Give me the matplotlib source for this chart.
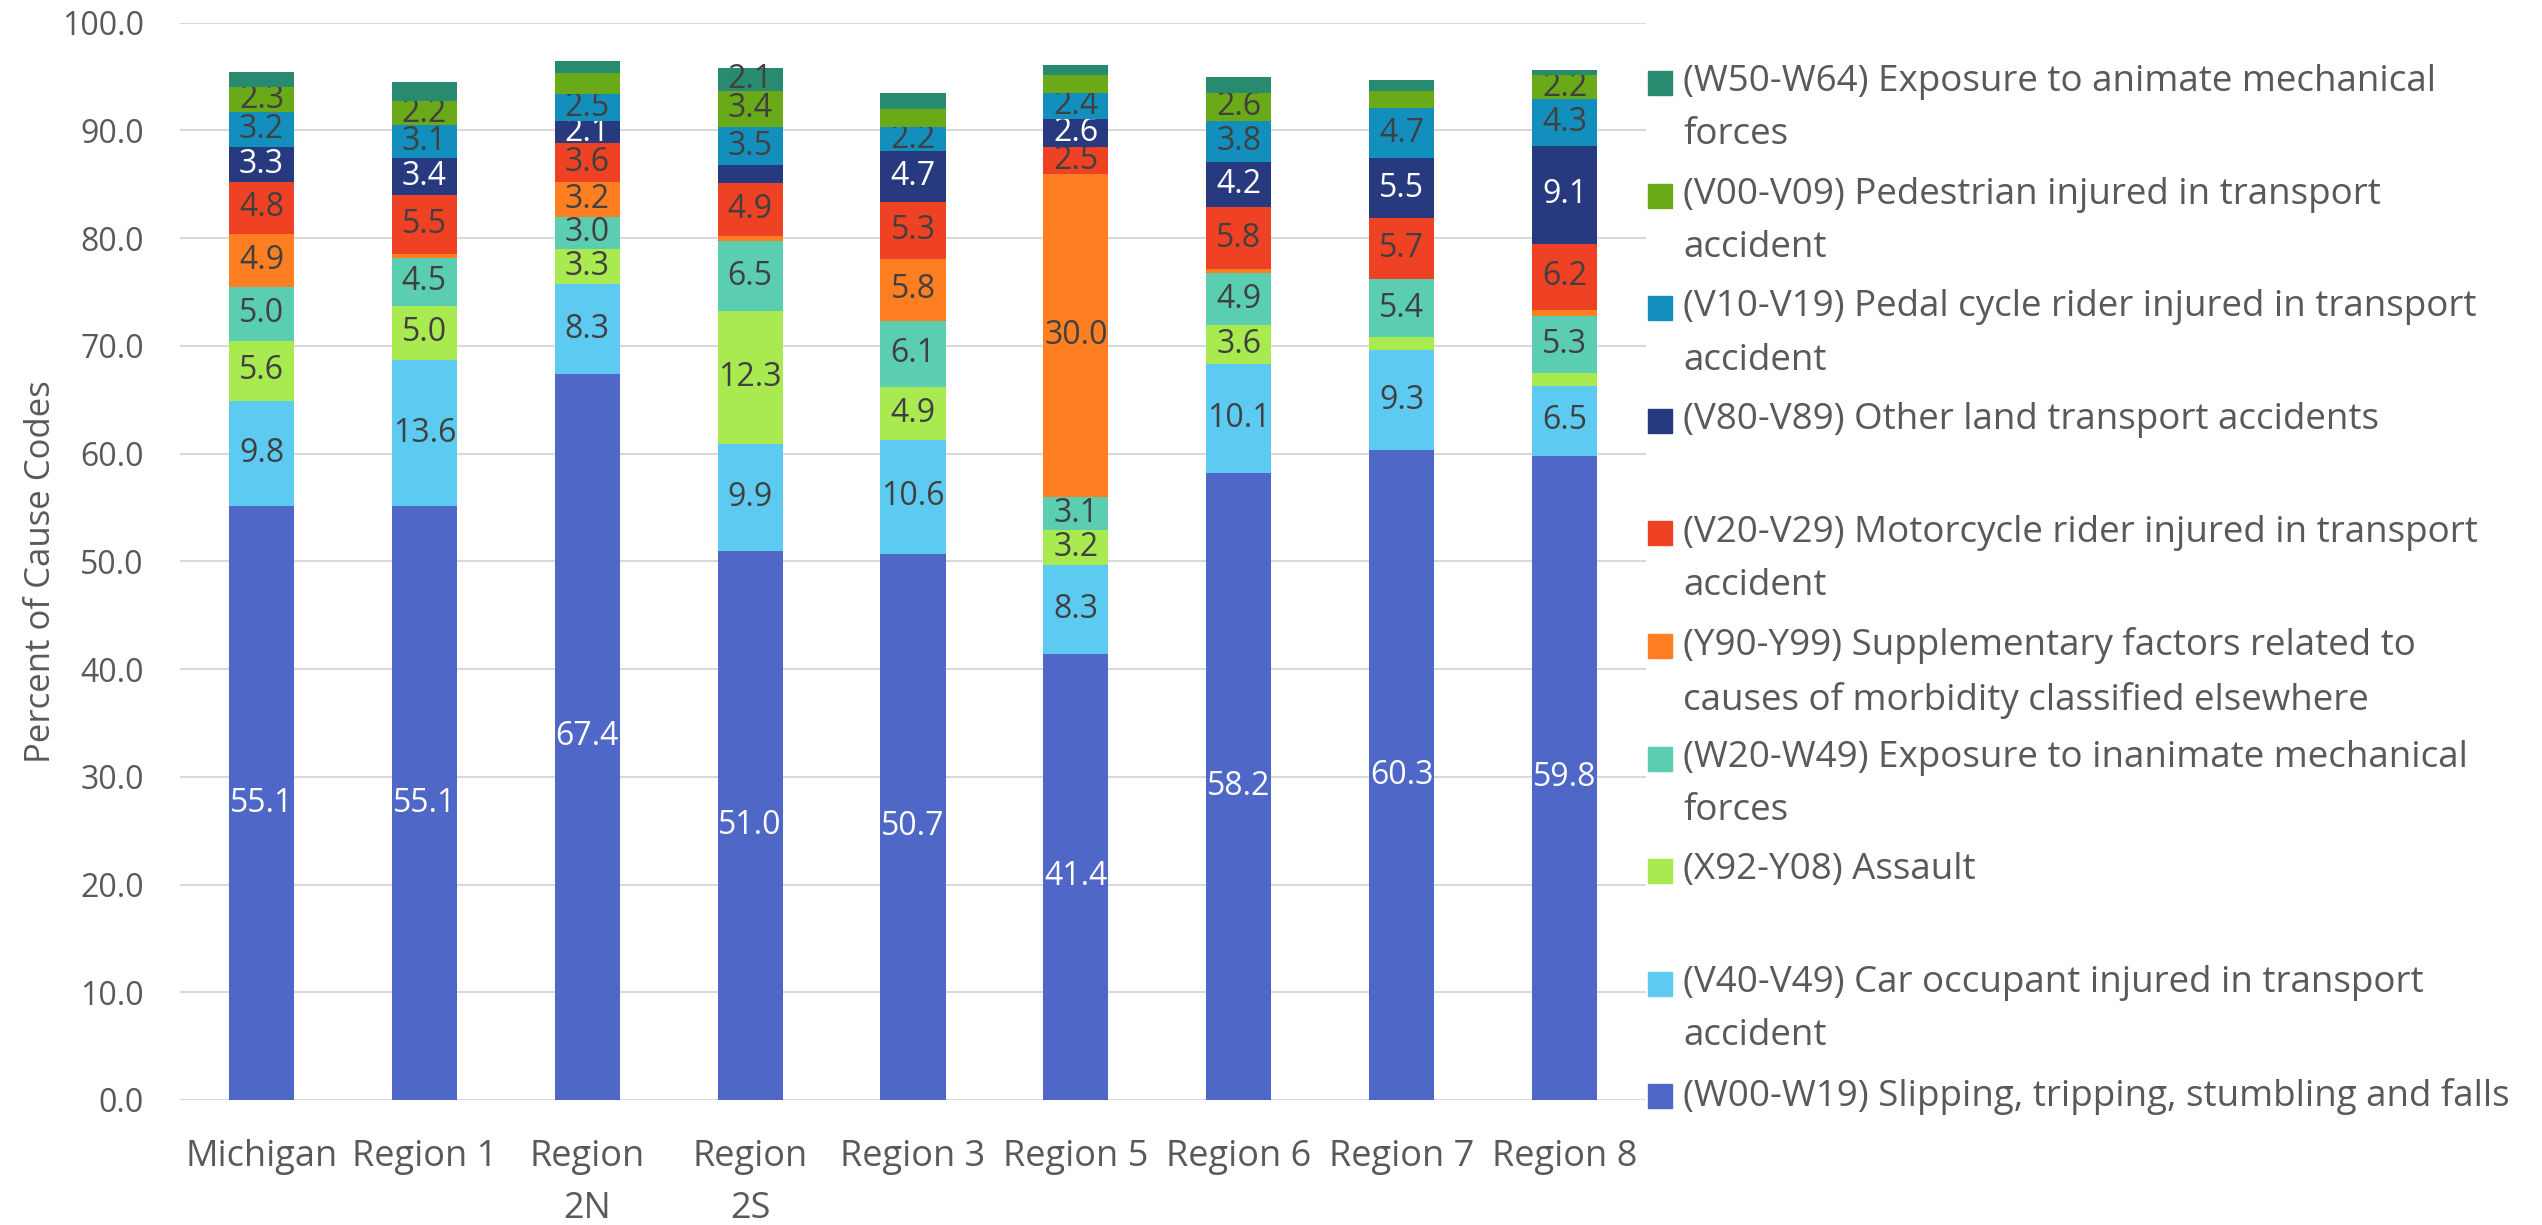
import matplotlib
matplotlib.use("Agg")
import matplotlib.pyplot as plt
import numpy as np
from matplotlib.patches import Rectangle

plt.rcParams["font.family"] = ["Open Sans", "DejaVu Sans"]

# ------------------------------------------------------------------ #
# Data (percent of cause codes), stacked bottom -> top
# ------------------------------------------------------------------ #
regions = ["Michigan", "Region 1", "Region\n2N", "Region\n2S", "Region 3",
           "Region 5", "Region 6", "Region 7", "Region 8"]

w00_w19 = [55.1, 55.1, 67.4, 51.0, 50.7, 41.4, 58.2, 60.3, 59.8]
v40_v49 = [9.8, 13.6, 8.3, 9.9, 10.6, 8.3, 10.1, 9.3, 6.5]
x92_y08 = [5.6, 5.0, 3.3, 12.3, 4.9, 3.2, 3.6, 1.2, 1.2]
w20_w49 = [5.0, 4.5, 3.0, 6.5, 6.1, 3.1, 4.9, 5.4, 5.3]
y90_y99 = [4.9, 0.3, 3.2, 0.5, 5.8, 30.0, 0.3, 0.0, 0.5]
v20_v29 = [4.8, 5.5, 3.6, 4.9, 5.3, 2.5, 5.8, 5.7, 6.2]
v80_v89 = [3.3, 3.4, 2.1, 1.7, 4.7, 2.6, 4.2, 5.5, 9.1]
v10_v19 = [3.2, 3.1, 2.5, 3.5, 2.2, 2.4, 3.8, 4.7, 4.3]
v00_v09 = [2.3, 2.2, 1.9, 3.4, 1.7, 1.6, 2.6, 1.6, 2.2]
w50_w64 = [1.4, 1.8, 1.1, 2.1, 1.5, 1.0, 1.5, 1.0, 0.5]

series_names = [
    "(W00-W19) Slipping, tripping, stumbling and falls",
    "(V40-V49) Car occupant injured in transport\naccident",
    "(X92-Y08) Assault",
    "(W20-W49) Exposure to inanimate mechanical\nforces",
    "(Y90-Y99) Supplementary factors related to\ncauses of morbidity classified elsewhere",
    "(V20-V29) Motorcycle rider injured in transport\naccident",
    "(V80-V89) Other land transport accidents",
    "(V10-V19) Pedal cycle rider injured in transport\naccident",
    "(V00-V09) Pedestrian injured in transport\naccident",
    "(W50-W64) Exposure to animate mechanical\nforces",
]
series_values = [w00_w19, v40_v49, x92_y08, w20_w49, y90_y99,
                 v20_v29, v80_v89, v10_v19, v00_v09, w50_w64]
series_colors = ["#4F67C6", "#5DCBF1", "#A8EA50", "#5BCDB0", "#FD7F22",
                 "#EF4123", "#283A7F", "#138FBE", "#6AA917", "#288A6E"]
label_colors = ["white", "#404040", "#404040", "#404040", "#404040",
                "#404040", "white", "#404040", "#404040", "#404040"]

# ------------------------------------------------------------------ #
# Figure
# ------------------------------------------------------------------ #
W, H = 2542, 1225
fig = plt.figure(figsize=(W / 100, H / 100), dpi=100)
ax = fig.add_axes([180 / W, 1 - 1100 / H, 1466 / W, (1100 - 22.7) / H])

x = np.arange(len(regions))
bottom = np.zeros(len(regions))
for name, vals, col, lcol in zip(series_names, series_values, series_colors, label_colors):
    vals = np.asarray(vals, dtype=float)
    bars = ax.bar(x, vals, width=0.4, bottom=bottom, color=col, linewidth=0, zorder=3)
    labels = [f"{v:.1f}" if v >= 2.0 else "" for v in vals]
    ax.bar_label(bars, labels=labels, label_type="center", color=lcol, fontsize=23)
    bottom += vals

ax.set_xlim(-0.5, len(regions) - 0.5)
ax.set_ylim(0, 100)
ax.set_yticks(np.arange(0, 101, 10))
ax.set_yticklabels([f"{v:.1f}" for v in np.arange(0, 101, 10)])
ax.set_xticks(x)
ax.set_xticklabels(regions, linespacing=1.6)
ax.tick_params(axis="both", length=0, labelcolor="#595959")
ax.tick_params(axis="x", pad=28, labelsize=26)
ax.tick_params(axis="y", pad=26, labelsize=23)
ax.grid(axis="y", color="#D9D9D9", linewidth=1.5, zorder=0)
for s in ax.spines.values():
    s.set_visible(False)
ax.set_ylabel("Percent of Cause Codes", fontsize=25, color="#595959")
ax.yaxis.label.set_va("center")
ax.yaxis.set_label_coords(-0.095, 0.49)

# ------------------------------------------------------------------ #
# Legend (equal slots, top -> bottom reversed stack order)
# ------------------------------------------------------------------ #
slot_top, slot_step = 83, 112.6
for i, k in enumerate(range(len(series_names) - 1, -1, -1)):
    yc = slot_top + i * slot_step
    fig.patches.append(Rectangle((1648 / W, 1 - (yc + 12) / H), 24 / W, 24 / H,
                                 transform=fig.transFigure, color=series_colors[k]))
    fig.text(1683 / W, 1 - (yc - 18.8) / H, series_names[k], fontsize=26.5,
             color="#595959", va="top", ha="left", linespacing=1.64)

fig.savefig("out.png", dpi=100)
